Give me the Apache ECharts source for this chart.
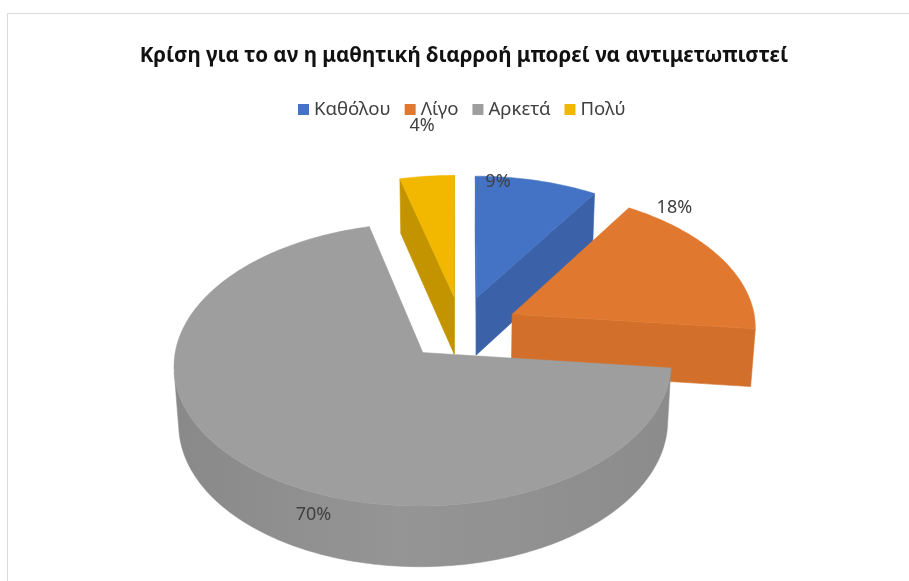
<!DOCTYPE html>
<html>
<head>
<meta charset="utf-8">
<script src="https://cdn.jsdelivr.net/npm/echarts@6/dist/echarts.min.js"></script>
<style>
  html, body { margin: 0; padding: 0; background: #ffffff; }
  #chart { width: 909px; height: 581px; }
</style>
</head>
<body>
<div id="chart"></div>
<script>
// Categories and their shares (percent of respondents)
const categories = ['Καθόλου', 'Λίγο', 'Αρκετά', 'Πολύ'];
const shares = [9, 18, 70, 4];
const chartTitle = 'Κρίση για το αν η μαθητική διαρροή μπορεί να αντιμετωπιστεί';

// Colours: top faces and side walls
const topColors = ['#4472C4', '#E0792F', '#9E9E9E', '#F2B800'];
const wallColors = ['#3B62A9', '#D2702B', '#929292', '#C49400'];

// Label anchor inside each slice: [fraction of the slice angle, radius, depth fraction]
const labelAnchors = [[0.19, 0.955, 0], [0.136, 1.12, 0], [0.43, 1.0, 0.37], [0.58, 1.46, 0]];

const FONT = '"Noto Sans", "DejaVu Sans", sans-serif';

// Simple perspective camera for the tilted, extruded pie
const view = {
  cx: 461, cy: 328, f: 2440, dist: 10,
  elev: 34 * Math.PI / 180,
  height: 0.29, explode: 0.235
};
const se = Math.sin(view.elev), ce = Math.cos(view.elev);
const camera = [0, -view.dist * ce, view.dist * se];

function project(X, Y, Z) {
  const d = view.dist + Y * ce - Z * se;
  return [view.cx + view.f * X / d, view.cy - view.f * (Y * se + Z * ce) / d];
}
function facing(n, p) {
  return n[0] * (camera[0] - p[0]) + n[1] * (camera[1] - p[1]) + n[2] * (camera[2] - p[2]) > 0;
}
function shade(hex, k) {
  const v = parseInt(hex.slice(1), 16);
  const c = [(v >> 16) & 255, (v >> 8) & 255, v & 255].map(x => Math.max(0, Math.min(255, Math.round(x * k))));
  return 'rgb(' + c.join(',') + ')';
}

// Angular extents: clockwise from 12 o'clock
const total = shares.reduce((a, b) => a + b, 0);
const angleStart = [], angleEnd = [];
{
  let acc = 0;
  shares.forEach(v => {
    angleStart.push(acc / total * 2 * Math.PI);
    acc += v;
    angleEnd.push(acc / total * 2 * Math.PI);
  });
}
// Paint order: slices further from the viewer first
const depthKey = shares.map((v, i) => {
  const mid = (angleStart[i] + angleEnd[i]) / 2;
  const reach = (angleEnd[i] - angleStart[i]) < Math.PI ? 0.5 : 0.15;
  return (view.explode + reach) * Math.cos(mid);
});
const order = depthKey.map((d, i) => i).sort((a, b) => depthKey[b] - depthKey[a]);
const rank = [];
order.forEach((idx, r) => { rank[idx] = r; });

function makeRenderer(i) {
  return function (params, api) {
    const value = api.value(0);
    const a0 = angleStart[i], a1 = angleEnd[i];
    const mid = (a0 + a1) / 2;
    const ox = view.explode * Math.sin(mid), oy = view.explode * Math.cos(mid);
    const H = view.height;
    const base = rank[i] * 10;
    const steps = Math.max(2, Math.ceil((a1 - a0) / (1 * Math.PI / 180)));
    const rim = (phi, z) => project(ox + Math.sin(phi), oy + Math.cos(phi), z);
    const children = [];

    // Outer curved wall: the part turned towards the viewer, as one shaded band
    const vis = [];
    for (let s = 0; s <= steps; s++) {
      const p = a0 + (a1 - a0) * s / steps;
      const n = [Math.sin(p), Math.cos(p), 0];
      const c = [ox + Math.sin(p), oy + Math.cos(p), -H / 2];
      vis.push(facing(n, c));
    }
    let s = 0;
    while (s < steps) {
      if (!(vis[s] || vis[s + 1])) { s++; continue; }
      let e = s;
      while (e < steps && (vis[e] || vis[e + 1])) e++;
      const topRun = [], botRun = [];
      for (let k = s; k <= e; k++) {
        const p = a0 + (a1 - a0) * k / steps;
        topRun.push(rim(p, 0));
        botRun.push(rim(p, -H));
      }
      const pts = topRun.concat(botRun.reverse());
      const xs = pts.map(q => q[0]);
      const xmin = Math.min.apply(null, xs), xmax = Math.max.apply(null, xs);
      children.push({
        type: 'polygon', z2: base + 1, silent: true,
        shape: { points: pts },
        style: {
          fill: {
            type: 'linear', global: true, x: xmin, y: 0, x2: xmax, y2: 0,
            colorStops: [
              { offset: 0, color: shade(wallColors[i], 0.94) },
              { offset: 0.45, color: shade(wallColors[i], 1.02) },
              { offset: 1, color: shade(wallColors[i], 0.96) }
            ]
          },
          stroke: shade(wallColors[i], 0.98), lineWidth: 0.5
        }
      });
      s = e;
    }

    // Radial cut faces
    const radial = [
      { phi: a0, n: [-Math.cos(a0), Math.sin(a0), 0] },
      { phi: a1, n: [Math.cos(a1), -Math.sin(a1), 0] }
    ];
    radial.forEach(face => {
      const c = [ox + 0.5 * Math.sin(face.phi), oy + 0.5 * Math.cos(face.phi), -H / 2];
      if (!facing(face.n, c)) return;
      children.push({
        type: 'polygon', z2: base + 2, silent: true,
        shape: { points: [project(ox, oy, 0), rim(face.phi, 0), rim(face.phi, -H), project(ox, oy, -H)] },
        style: { fill: wallColors[i], stroke: wallColors[i], lineWidth: 0.6 }
      });
    });

    // Top face
    const topPts = [project(ox, oy, 0)];
    for (let k = 0; k <= steps; k++) {
      topPts.push(rim(a0 + (a1 - a0) * k / steps, 0));
    }
    children.push({
      type: 'polygon', z2: base + 5, silent: true,
      shape: { points: topPts },
      style: { fill: topColors[i], stroke: topColors[i], lineWidth: 0.5 }
    });

    // Percentage label
    const la = labelAnchors[i];
    const lphi = a0 + (a1 - a0) * la[0];
    const lp = project(ox + la[1] * Math.sin(lphi), oy + la[1] * Math.cos(lphi), -H * la[2]);
    children.push({
      type: 'text', z2: 200, silent: true,
      x: lp[0], y: lp[1],
      style: {
        text: value + '%', fill: '#404040',
        fontSize: 18, fontFamily: FONT,
        align: 'center', verticalAlign: 'middle'
      }
    });

    return { type: 'group', children: children };
  };
}

const chart = echarts.init(document.getElementById('chart'), null, { renderer: 'canvas' });
chart.setOption({
  backgroundColor: '#ffffff',
  animation: false,
  title: {
    text: chartTitle,
    left: 459, top: 41, textAlign: 'center',
    textStyle: { fontFamily: FONT, fontSize: 20.6, fontWeight: 'bold', color: '#111111' }
  },
  legend: {
    data: categories,
    left: 293, top: 95,
    icon: 'rect', itemWidth: 11, itemHeight: 11, itemGap: 14,
    textStyle: { fontFamily: FONT, fontSize: 18.6, color: '#404040' }
  },
  graphic: [{
    type: 'rect', silent: true, z: -10,
    shape: { x: 7.5, y: 13.5, width: 920, height: 600 },
    style: { fill: 'none', stroke: '#d9d9d9', lineWidth: 1 }
  }],
  series: categories.map((name, i) => ({
    type: 'custom',
    name: name,
    coordinateSystem: 'none',
    itemStyle: { color: topColors[i] },
    data: [[shares[i]]],
    renderItem: makeRenderer(i)
  }))
});
</script>
</body>
</html>
